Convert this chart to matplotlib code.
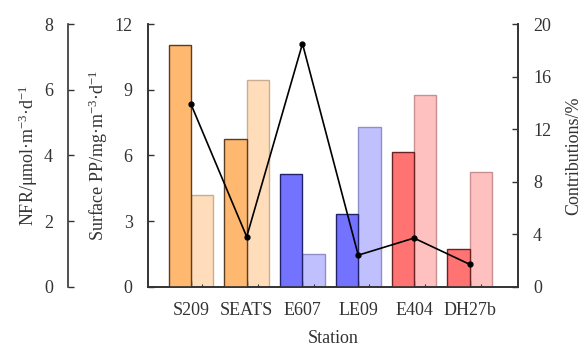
import numpy as np
import matplotlib
matplotlib.use('Agg')
import matplotlib.pyplot as plt

plt.rcParams['font.family'] = ['Liberation Serif', 'DejaVu Serif']
plt.rcParams['mathtext.fontset'] = 'custom'
plt.rcParams['mathtext.rm'] = 'Liberation Serif'
plt.rcParams['mathtext.default'] = 'regular'
plt.rcParams['font.size'] = 13
plt.rcParams['text.color'] = '#333333'
plt.rcParams['axes.labelcolor'] = '#333333'
plt.rcParams['xtick.color'] = '#333333'
plt.rcParams['ytick.color'] = '#333333'

stations = ['S209', 'SEATS', 'E607', 'LE09', 'E404', 'DH27b']
nfr = [7.36, 4.49, 3.42, 2.20, 4.11, 1.14]          # umol m-3 d-1
pp = [4.19, 9.46, 1.48, 7.31, 8.74, 5.24]           # mg m-3 d-1
contrib = [13.9, 3.8, 18.5, 2.4, 3.7, 1.7]          # %

dark_cols = ['#FFB870', '#FFB870', '#7373FF', '#7373FF', '#FF7373', '#FF7373']
light_cols = ['#FFDDBB', '#FFDDBB', '#C0C0FF', '#C0C0FF', '#FFC0C0', '#FFC0C0']
dark_edge = ['#5a3c22', '#5a3c22', '#22226a', '#22226a', '#6a2222', '#6a2222']
light_edge = ['#c8ad93', '#c8ad93', '#9090c8', '#9090c8', '#c89090', '#c89090']

x = np.arange(len(stations))
w = 0.4

fig = plt.figure(figsize=(5.83, 3.47), dpi=100)
ax = fig.add_axes([0.2539, 0.1738, 0.888 - 0.2539, 0.9308 - 0.1738])
ax_nfr = ax.twinx()
ax_c = ax.twinx()

# light bars on PP axis
ax.bar(x + w / 2, pp, w, color=light_cols, edgecolor=light_edge, linewidth=1)
ax.set_ylim(0, 12)
ax.set_yticks([0, 3, 6, 9, 12])
ax.set_ylabel('Surface PP/mg·m$^{-3}$·d$^{-1}$', labelpad=3)
ax.set_xlim(-0.77, 5.86)
ax.set_xticks(x)
ax.set_xticklabels(stations)
ax.set_xticks(np.concatenate([x - w / 2, x + w / 2]), minor=True)
ax.set_xlabel('Station', labelpad=8)
ax.spines['top'].set_visible(False)
ax.tick_params(axis='both', direction='in', length=4, width=1)
ax.tick_params(axis='x', which='minor', direction='in', length=2, width=0.8)
ax.tick_params(axis='x', pad=11)
ax.tick_params(axis='y', pad=11)

# dark bars on NFR axis (offset left spine)
ax_nfr.bar(x - w / 2, nfr, w, color=dark_cols, edgecolor=dark_edge, linewidth=1)
ax_nfr.set_ylim(0, 8)
ax_nfr.set_yticks([0, 2, 4, 6, 8])
ax_nfr.yaxis.set_label_position('left')
ax_nfr.yaxis.set_ticks_position('left')
ax_nfr.spines['left'].set_position(('axes', -0.216))
ax_nfr.spines['left'].set_visible(True)
for s in ['right', 'top', 'bottom']:
    ax_nfr.spines[s].set_visible(False)
ax_nfr.set_ylabel('NFR/μmol·m$^{-3}$·d$^{-1}$', labelpad=3)
ax_nfr.tick_params(axis='y', direction='in', length=4, width=1, pad=11)

# contributions line
ax_c.plot(x, contrib, color='black', linewidth=1.2, marker='o', markersize=3.5)
ax_c.set_ylim(0, 20)
ax_c.set_yticks([0, 4, 8, 12, 16, 20])
ax_c.set_ylabel('Contributions/%', labelpad=10)
ax_c.spines['top'].set_visible(False)
ax_c.tick_params(axis='y', direction='in', length=4, width=1, pad=11)

for a in (ax, ax_nfr, ax_c):
    for s in a.spines.values():
        s.set_color('#333333')
        s.set_linewidth(1.2)

fig.savefig('out.png', dpi=100)
